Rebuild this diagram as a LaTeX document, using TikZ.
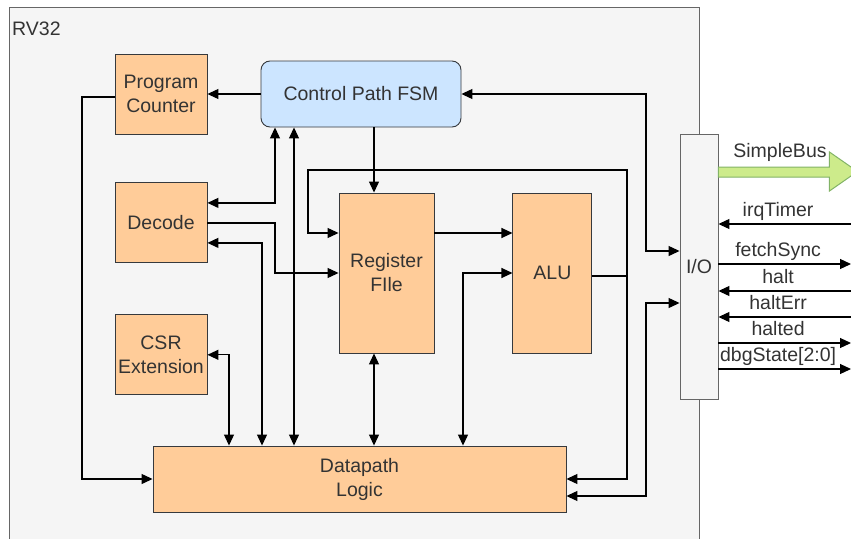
\documentclass[tikz,border=0pt]{standalone}
\usepackage{fontspec}
\setmainfont{Liberation Sans}
\usetikzlibrary{arrows.meta,positioning}
\definecolor{ink}{HTML}{333333}
\definecolor{unitfill}{HTML}{FFCC99}
\definecolor{unitline}{HTML}{36393D}
\definecolor{ctrlfill}{HTML}{CCE5FF}
\definecolor{corefill}{HTML}{F5F5F5}
\definecolor{coreline}{HTML}{666666}
\definecolor{busfill}{HTML}{CDEB8B}
\definecolor{busline}{HTML}{82B366}

\begin{document}
\begin{tikzpicture}[
  x=1pt, y=-1pt,
  font=\fontsize{19.5}{24}\selectfont, text=ink,
  >={Triangle[length=11pt,width=10pt]},
  unit/.style={draw=unitline, fill=unitfill, line width=0.9pt, align=center,
               inner sep=0pt, minimum width=92pt, minimum height=80pt},
  ctrl/.style={unit, fill=ctrlfill, rounded corners=9pt},
  port/.style={draw=coreline, fill=corefill, line width=0.9pt, inner sep=0pt},
  route/.style={draw=black, line width=1.2pt, ->},
  duplex/.style={route, <->},
  pinlbl/.style={inner sep=0pt, text height=14pt, text depth=4pt}
]
\useasboundingbox (0,0) rectangle (851,538);

% core outline
\fill[corefill] (9,7) rectangle (699,540);
\draw[coreline, line width=1pt] (9,540) -- (9,7) -- (699,7) -- (699,540);
\node[anchor=west, inner sep=0pt] (core) at (12,29) {RV32};

% blocks
\node[unit] (pc) at (161,94) {Program\\Counter};
\node[unit, below=48pt of pc] (decode) {Decode};
\node[unit, below=51pt of decode] (csr) {CSR\\Extension};
\node[ctrl, minimum width=200pt, minimum height=66pt] (fsm) at (361,94) {Control Path FSM};
\node[unit, minimum width=95pt, minimum height=160pt] (rf) at (386.5,273) {Register\\FIle};
\node[unit, minimum width=79pt, minimum height=160pt, right=78pt of rf] (alu) {ALU};
\node[unit, minimum width=413pt, minimum height=66pt] (dp) at (359.5,479) {Datapath\\Logic};
\node[port, minimum width=38pt, minimum height=265pt] (io) at (699,266.5) {I/O};

% control paths
\draw[route] (fsm.west) -- (pc.east);
\draw[route] ([yshift=-3pt]pc.west) -- (82,97) |- (dp.west);
\draw[duplex] (275,0 |- fsm.south) |- ([yshift=20pt]decode.east);
\draw[route] (decode.east) -| (275,273) -- (rf.west);
\draw[duplex] ([yshift=-20pt]decode.east) -| (262,0 |- dp.north);
\draw[duplex] (294,0 |- fsm.south) -- (294,0 |- dp.north);
\draw[duplex] (csr.east) -| (229,0 |- dp.north);
\draw[route] (374,0 |- fsm.south) -- (374,0 |- rf.north);
\draw[duplex] (374,0 |- rf.south) -- (374,0 |- dp.north);

% alu in / out
\draw[route] ([yshift=40pt]rf.east) -- ([yshift=40pt]alu.west);
\draw[duplex] (463,0 |- dp.north) |- (alu.west);
\coordinate (aluout) at (627,276);
\draw[route] ([yshift=-3pt]alu.east) -- (aluout) |- (308,170) -- (308,233) -- ([yshift=40pt]rf.west);
\draw[route] (aluout) |- (dp.east);

% to the I/O block
\draw[duplex] (fsm.east) -| (646,251) -- ([yshift=15.5pt]io.west);
\draw[duplex] ([yshift=-36.5pt]io.west) -| (646,496) -- ([yshift=-17pt]dp.east);

% external bus
\draw[busline, fill=busfill, line width=1pt] ([yshift=99.5pt]io.east) -- ++(111,0) -- ++(0,-15)
  -- ++(28,19.5) -- ++(-28,19.5) -- ++(0,-14) -- ++(-111,0) -- cycle;
\node[anchor=base, inner sep=0pt] (buslbl) at (780,157) {SimpleBus};

% single pins
\foreach \y/\sig in {224/irqTimer, 291/halt, 317/haltErr}{
  \coordinate (pin\y) at (851,\y);
  \draw[route, <-] (io.east |- pin\y) -- (pin\y) node[pos=0.45, above=3pt, pinlbl] {\sig};
}
\foreach \y/\sig in {264/fetchSync, 343/halted, 369/{dbgState[2:0]}}{
  \coordinate (pin\y) at (851,\y);
  \draw[route] (io.east |- pin\y) -- (pin\y) node[pos=0.45, above=3pt, pinlbl] {\sig};
}
\end{tikzpicture}
\end{document}
